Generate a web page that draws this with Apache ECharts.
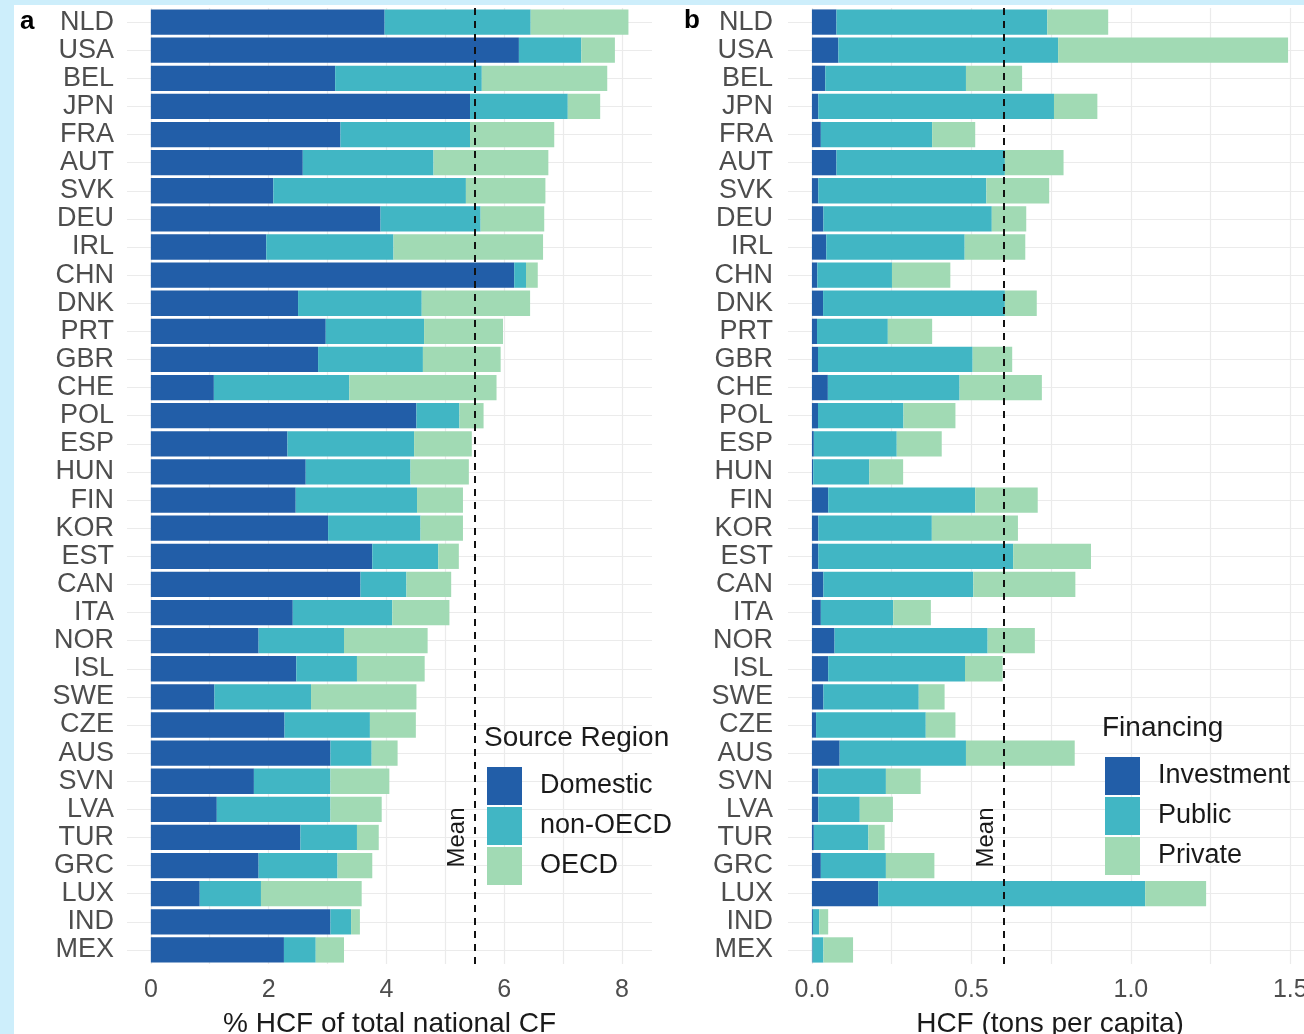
<!DOCTYPE html>
<html>
<head>
<meta charset="utf-8">
<script src="https://cdn.jsdelivr.net/npm/echarts@6/dist/echarts.min.js"></script>
<style>
  html, body { margin: 0; padding: 0; background: #cdeefb; }
  #paper { position: absolute; left: 14px; top: 5px; width: 1290px; height: 1029px; background: #ffffff; }
  #chart { position: absolute; left: 0; top: 0; width: 1304px; height: 1034px; }
</style>
</head>
<body>
<div id="paper"></div>
<div id="chart"></div>
<script>
// ---------- data ----------
var countries = ['NLD','USA','BEL','JPN','FRA','AUT','SVK','DEU','IRL','CHN','DNK','PRT','GBR','CHE','POL','ESP','HUN','FIN','KOR','EST','CAN','ITA','NOR','ISL','SWE','CZE','AUS','SVN','LVA','TUR','GRC','LUX','IND','MEX'];

// Panel a: % HCF of total national CF, by source region (stacked segments)
var domestic = [3.97,6.25,3.13,5.42,3.22,2.58,2.08,3.90,1.96,6.17,2.50,2.97,2.84,1.07,4.51,2.32,2.63,2.46,3.01,3.76,3.56,2.41,1.83,2.47,1.08,2.27,3.05,1.75,1.12,2.54,1.83,0.83,3.05,2.26];
var nonOECD  = [2.48,1.06,2.49,1.66,2.20,2.22,3.27,1.70,2.16,0.20,2.10,1.67,1.78,2.30,0.73,2.15,1.78,2.06,1.57,1.12,0.78,1.69,1.45,1.03,1.64,1.45,0.70,1.30,1.93,0.96,1.34,1.04,0.35,0.54];
var oecd     = [1.66,0.57,2.13,0.55,1.43,1.95,1.35,1.08,2.54,0.20,1.84,1.34,1.32,2.50,0.41,0.98,0.99,0.78,0.72,0.35,0.76,0.97,1.42,1.15,1.79,0.78,0.44,1.00,0.87,0.37,0.59,1.71,0.15,0.48];

// Panel b: HCF (tons per capita), by financing (stacked segments)
var investment = [0.077,0.083,0.042,0.020,0.028,0.077,0.020,0.036,0.045,0.017,0.035,0.016,0.019,0.050,0.019,0.006,0.004,0.051,0.020,0.020,0.036,0.028,0.071,0.051,0.036,0.013,0.087,0.020,0.020,0.006,0.028,0.208,0.003,0.002];
var publicF    = [0.661,0.689,0.441,0.739,0.349,0.528,0.527,0.528,0.434,0.234,0.570,0.222,0.485,0.413,0.268,0.260,0.176,0.461,0.356,0.611,0.470,0.227,0.480,0.429,0.299,0.344,0.396,0.212,0.130,0.171,0.204,0.837,0.020,0.034];
var privateF   = [0.191,0.721,0.176,0.136,0.135,0.184,0.197,0.108,0.190,0.183,0.100,0.139,0.124,0.258,0.163,0.141,0.106,0.196,0.270,0.244,0.320,0.118,0.148,0.118,0.081,0.093,0.341,0.109,0.104,0.051,0.152,0.191,0.028,0.093];

var meanShare = 5.5;
var meanTons = 0.6;

var ticksA = [0, 2, 4, 6, 8];
var gridValsA = [0, 1, 2, 3, 4, 5, 6, 7, 8];
var ticksB = [0, 0.5, 1.0, 1.5];
var gridValsB = [0, 0.25, 0.5, 0.75, 1.0, 1.25, 1.5];

var seriesNamesA = ['Domestic', 'non-OECD', 'OECD'];
var seriesNamesB = ['Investment', 'Public', 'Private'];
var colors = ['#225ea8', '#41b6c4', '#a1dab4'];

// ---------- chart ----------
var FONT = "'Liberation Sans', Arial, Helvetica, sans-serif";
var chart = echarts.init(document.getElementById('chart'), null, { renderer: 'canvas' });
var rowIdx = countries.map(function (c, i) { return i; });
var gridColor = '#ebebeb';

function xAxisDef(gridIndex, min, max, ticks, gridVals, name, fmt) {
  return {
    type: 'value', gridIndex: gridIndex, min: min, max: max,
    axisLine: { show: false },
    axisTick: { show: false, customValues: gridVals },
    axisLabel: { customValues: ticks, formatter: fmt, color: '#4d4d4d', fontSize: 25, fontFamily: FONT, margin: 14 },
    splitLine: { show: true, lineStyle: { color: gridColor, width: 1.2 } },
    name: name, nameLocation: 'middle', nameGap: 46,
    nameTextStyle: { color: '#1a1a1a', fontSize: 28, fontFamily: FONT }
  };
}
function yCatDef(gridIndex, margin) {
  return {
    type: 'category', gridIndex: gridIndex, data: countries, inverse: true,
    axisLine: { show: false }, axisTick: { show: false },
    axisLabel: { interval: 0, color: '#4d4d4d', fontSize: 27, fontFamily: FONT, margin: margin },
    splitLine: { show: false }
  };
}
function yGridDef(gridIndex) {
  return {
    type: 'value', gridIndex: gridIndex, min: -0.5, max: countries.length - 0.5, inverse: true,
    axisLine: { show: false },
    axisTick: { show: false, customValues: rowIdx },
    axisLabel: { show: false },
    splitLine: { show: true, lineStyle: { color: gridColor, width: 1.2 } }
  };
}
function barSeries(name, data, color, xi, yi, stack, meanVal) {
  var s = {
    name: name, type: 'bar', stack: stack, data: data,
    xAxisIndex: xi, yAxisIndex: yi,
    barCategoryGap: '10%',
    itemStyle: { color: color },
    emphasis: { disabled: true },
    z: 3
  };
  if (meanVal !== undefined) {
    s.markLine = {
      silent: true, symbol: ['none', 'none'],
      label: { show: false },
      lineStyle: { color: '#111111', type: [7, 6], width: 2 },
      data: [{ xAxis: meanVal }],
      z: 6
    };
  }
  return s;
}

var option = {
  animation: false,
  backgroundColor: 'transparent',
  textStyle: { fontFamily: FONT },
  title: [
    { text: 'a', left: 15, top: 4, textStyle: { fontSize: 26, fontWeight: 'bold', color: '#000', fontFamily: FONT } },
    { text: 'b', left: 679, top: 3, textStyle: { fontSize: 26, fontWeight: 'bold', color: '#000', fontFamily: FONT } },
    { text: 'Source Region', left: 484, top: 724, padding: 0, textStyle: { fontSize: 28, fontWeight: 'normal', color: '#1a1a1a', fontFamily: FONT } },
    { text: 'Financing', left: 1102, top: 714, padding: 0, textStyle: { fontSize: 28, fontWeight: 'normal', color: '#1a1a1a', fontFamily: FONT } }
  ],
  legend: [
    {
      data: seriesNamesA, orient: 'vertical', left: 487, top: 767, padding: 0,
      itemWidth: 35, itemHeight: 38, itemGap: 2, icon: 'rect', selectedMode: false,
      textStyle: { fontSize: 27, color: '#1a1a1a', fontFamily: FONT, padding: [0, 0, 0, 13] }
    },
    {
      data: seriesNamesB, orient: 'vertical', left: 1105, top: 757, padding: 0,
      itemWidth: 35, itemHeight: 38, itemGap: 2, icon: 'rect', selectedMode: false,
      textStyle: { fontSize: 27, color: '#1a1a1a', fontFamily: FONT, padding: [0, 0, 0, 13] }
    }
  ],
  grid: [
    { left: 127, top: 8, width: 525, height: 956, containLabel: false, outerBoundsMode: 'none' },
    { left: 788, top: 8, width: 524, height: 956, containLabel: false, outerBoundsMode: 'none' }
  ],
  xAxis: [
    xAxisDef(0, -0.405, 8.51, ticksA, gridValsA, '% HCF of total national CF', function (v) { return String(Math.round(v)); }),
    xAxisDef(1, -0.075, 1.568, ticksB, gridValsB, 'HCF (tons per capita)', function (v) { return v.toFixed(1); })
  ],
  yAxis: [
    yCatDef(0, 13),
    yGridDef(0),
    yCatDef(1, 15),
    yGridDef(1)
  ],
  series: [
    barSeries(seriesNamesA[0], domestic, colors[0], 0, 0, 'a'),
    barSeries(seriesNamesA[1], nonOECD, colors[1], 0, 0, 'a'),
    barSeries(seriesNamesA[2], oecd, colors[2], 0, 0, 'a', meanShare),
    barSeries(seriesNamesB[0], investment, colors[0], 1, 2, 'b'),
    barSeries(seriesNamesB[1], publicF, colors[1], 1, 2, 'b'),
    barSeries(seriesNamesB[2], privateF, colors[2], 1, 2, 'b', meanTons)
  ]
};
chart.setOption(option);

// "Mean" annotations, positioned through the axes' scales
var rowMean = countries.indexOf('TUR');
var pA = chart.convertToPixel({ xAxisIndex: 0, yAxisIndex: 0 }, [meanShare, rowMean]);
var pB = chart.convertToPixel({ xAxisIndex: 1, yAxisIndex: 2 }, [meanTons, rowMean]);
function meanText(p) {
  return {
    type: 'text', x: p[0] - 17, y: p[1], rotation: Math.PI / 2, z: 10,
    style: { text: 'Mean', fontSize: 24, fontFamily: FONT, fill: '#1a1a1a', align: 'center', verticalAlign: 'middle' }
  };
}
chart.setOption({ graphic: [meanText(pA), meanText(pB)] });
</script>
</body>
</html>
